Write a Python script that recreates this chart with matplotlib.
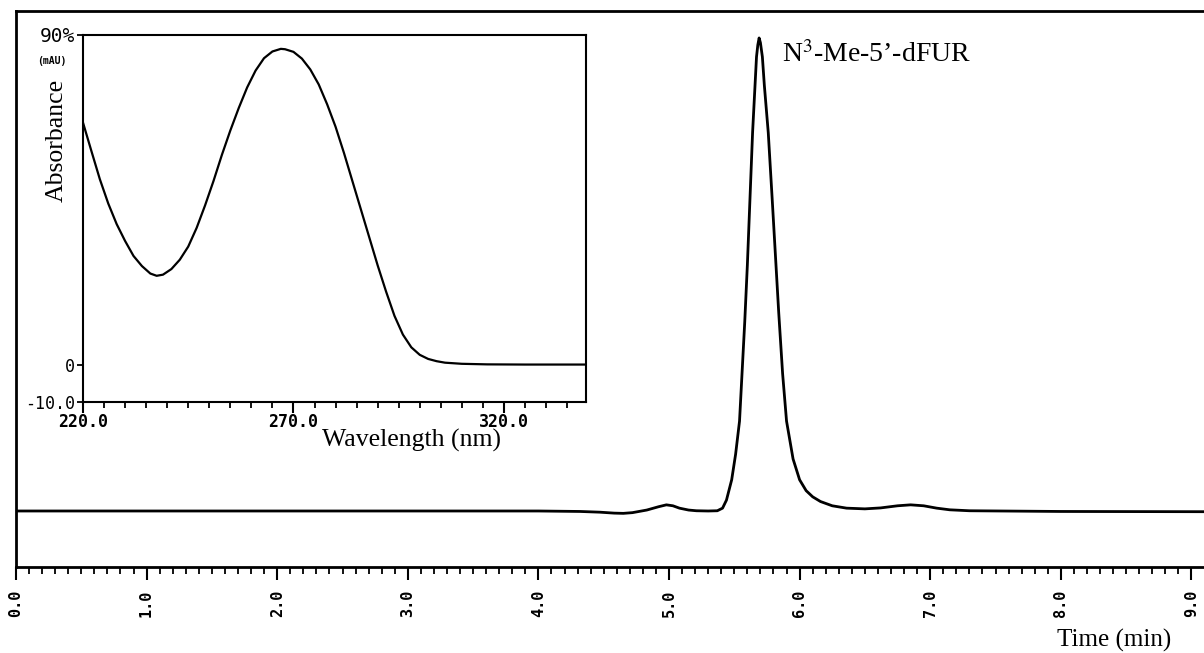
from matplotlib import pyplot as plt
from matplotlib.ticker import MultipleLocator

plt.rcParams["mathtext.fontset"] = "stix"

# chromatogram (signal scaled so that the main peak is 100)
retentionTime = [0.0, 1.0, 2.0, 3.0, 4.0, 4.32, 4.47, 4.58, 4.65, 4.72, 4.83, 4.92,
                 4.98, 5.03, 5.08, 5.15, 5.21, 5.3, 5.37, 5.41, 5.44, 5.48, 5.51,
                 5.54, 5.58, 5.60, 5.62, 5.64, 5.655, 5.67, 5.68, 5.69, 5.70,
                 5.715, 5.73, 5.76, 5.79, 5.815, 5.84, 5.87, 5.90,
                 5.95, 6.0, 6.05, 6.1, 6.16, 6.25, 6.36, 6.5, 6.62, 6.75, 6.85,
                 6.95, 7.05, 7.15, 7.3, 8.0, 9.1]
signal = [0.0, 0.0, 0.0, 0.0, 0.0, -0.1, -0.25, -0.45, -0.5, -0.35, 0.2, 0.9,
          1.3, 1.1, 0.6, 0.2, 0.05, 0.0, 0.05, 0.6, 2.3, 6.6, 12.0,
          19.0, 40.0, 52.0, 66.0, 80.0, 88.0, 96.0, 98.5, 100.0, 99.0,
          96.0, 90.0, 80.0, 66.0, 54.0, 42.0, 29.0, 19.0,
          11.0, 6.6, 4.3, 3.0, 2.0, 1.1, 0.6, 0.45, 0.65, 1.1, 1.3,
          1.1, 0.6, 0.25, 0.05, -0.1, -0.15]
timeTicks = [0.0, 1.0, 2.0, 3.0, 4.0, 5.0, 6.0, 7.0, 8.0, 9.0]
timeTickLabels = ["0.0", "1.0", "2.0", "3.0", "4.0", "5.0", "6.0", "7.0", "8.0", "9.0"]
peakLabel = r"N$^{3}$-Me-5’-dFUR"

# UV spectrum of the peak
wavelength = [220, 222, 224, 226, 228, 230, 232, 234, 236, 237.5, 239, 241,
              243, 245, 247, 249, 251, 253, 255, 257, 259, 261, 263, 265,
              267, 268, 270, 272, 274, 276, 278, 280, 282, 284, 286, 288,
              290, 292, 294, 296, 298, 300, 302, 304, 306, 310, 316, 325, 339.5]
absorbance = [64.6, 57.0, 49.5, 43.0, 37.5, 33.0, 29.0, 26.3, 24.3, 23.7, 24.0, 25.5,
              28.0, 31.5, 36.5, 42.5, 49.0, 56.0, 62.5, 68.5, 74.0, 78.5, 81.8, 83.6,
              84.3, 84.2, 83.5, 81.7, 78.8, 74.8, 69.5, 63.5, 56.5, 49.0, 41.5, 34.0,
              26.5, 19.5, 13.0, 8.0, 4.6, 2.6, 1.5, 0.9, 0.5, 0.2, 0.05, 0.0, 0.0]
wavelengthTicks = [220.0, 270.0, 320.0]
wavelengthTickLabels = ["220.0", "270.0", "320.0"]
absorbanceTicks = [-10.0, 0.0, 88.0]
absorbanceTickLabels = ["-10.0", "0", "90%"]

SERIF = "Liberation Serif"
MONO = "DejaVu Sans Mono"


def drawChromatogram(fig):
    ax = fig.add_axes([16 / 1204, 86 / 653, 1188 / 1204, 556 / 653])
    ax.plot(retentionTime, signal, color="black", lw=2.0)
    ax.set_xlim(0, 1188 / 130.6)
    ax.set_ylim(-11.84, 105.7)
    ax.spines["right"].set_visible(False)
    for side in ["left", "top", "bottom"]:
        ax.spines[side].set_linewidth(2.0)
    ax.set_yticks([])
    ax.set_xticks(timeTicks)
    ax.set_xticklabels(timeTickLabels, rotation=90, family=MONO,
                       fontweight="bold", fontsize=11)
    ax.xaxis.set_minor_locator(MultipleLocator(0.1))
    ax.tick_params(axis="x", which="major", length=9.5, width=1.5, pad=7,
                   direction="out")
    ax.tick_params(axis="x", which="minor", length=5, width=1.3,
                   direction="out")
    ax.annotate(peakLabel, xy=(5.69, 100), xytext=(16.5, -12),
                textcoords="offset points", ha="left", va="center",
                family=SERIF, fontsize=20)
    fig.text(1114 / 1204, 1 - 640 / 653, "Time (min)", ha="center",
             va="center", family=SERIF, fontsize=18)


def drawSpectrum(fig):
    ins = fig.add_axes([83 / 1204, 251 / 653, 503 / 1204, 367 / 653])
    ins.set_facecolor("white")
    ins.plot(wavelength, absorbance, color="black", lw=1.6)
    ins.set_xlim(220, 339.5)
    ins.set_ylim(-10, 88)
    for side in ins.spines:
        ins.spines[side].set_linewidth(1.5)
    ins.set_xticks(wavelengthTicks)
    ins.set_xticklabels(wavelengthTickLabels, family=MONO, fontsize=12,
                        fontweight="bold")
    ins.xaxis.set_minor_locator(MultipleLocator(5))
    ins.set_yticks(absorbanceTicks)
    labels = ins.set_yticklabels(absorbanceTickLabels, family=MONO, fontsize=12)
    labels[-1].set_fontsize(14)
    ins.tick_params(axis="x", which="major", length=8, width=1.5, pad=0)
    ins.tick_params(axis="x", which="minor", length=4.5, width=1.3)
    ins.tick_params(axis="y", which="major", length=4, width=1.3, pad=1.5)
    fig.text(52 / 1204, 1 - 61 / 653, "(mAU)", ha="center", va="center",
             family=MONO, fontweight="bold", fontsize=7)
    fig.text(57 / 1204, 1 - 140 / 653, "Absorbance", rotation=90,
             ha="center", va="center", family=SERIF, fontsize=18.5)
    fig.text(412 / 1204, 1 - 440 / 653, "Wavelength (nm)", ha="center",
             va="center", family=SERIF, fontsize=18.5)


def main() -> None:
    fig = plt.figure(figsize=(12.04, 6.53), dpi=100)
    drawChromatogram(fig)
    drawSpectrum(fig)
    fig.savefig("out.png", dpi=100)


if __name__ == "__main__":
    main()
